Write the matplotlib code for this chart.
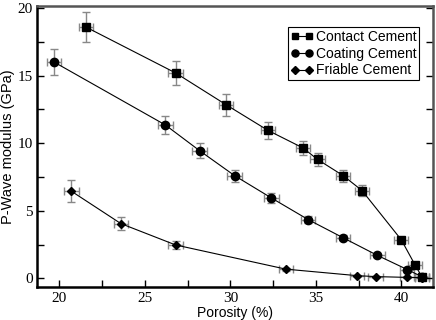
import matplotlib
matplotlib.use("Agg")
import matplotlib.pyplot as plt
from matplotlib.ticker import MultipleLocator

# Contact Cement (squares)
contact_x = [21.55, 26.8, 29.75, 32.2, 34.25, 35.1, 36.6, 37.7, 40.0, 40.8, 41.2]
contact_y = [18.6, 15.2, 12.85, 10.95, 9.65, 8.8, 7.6, 6.5, 2.85, 1.0, 0.12]
contact_yerr = [1.1, 0.9, 0.8, 0.65, 0.55, 0.5, 0.45, 0.4, 0.2, 0.1, 0.05]

# Coating Cement (circles)
coating_x = [19.7, 26.2, 28.2, 30.25, 32.4, 34.55, 36.6, 38.6, 40.35, 41.2]
coating_y = [16.0, 11.35, 9.45, 7.6, 5.95, 4.35, 3.0, 1.7, 0.65, 0.12]
coating_yerr = [0.95, 0.68, 0.55, 0.45, 0.35, 0.25, 0.18, 0.1, 0.05, 0.02]

# Friable Cement (diamonds)
friable_x = [20.7, 23.6, 26.8, 33.25, 37.4, 38.5, 40.35, 41.2]
friable_y = [6.45, 4.05, 2.47, 0.68, 0.2, 0.13, 0.07, 0.05]
friable_yerr = [0.8, 0.5, 0.33, 0.1, 0.03, 0.02, 0.01, 0.01]

xerr = 0.42

fig = plt.figure(figsize=(4.36, 3.2), dpi=100)
ax = fig.add_axes([0.086, 0.104, 0.907, 0.877])

ebkw = dict(ecolor="#888888", elinewidth=1.0, capsize=3, capthick=1.0, zorder=1)
ax.errorbar(contact_x, contact_y, xerr=xerr, yerr=contact_yerr, fmt="none", **ebkw)
ax.errorbar(coating_x, coating_y, xerr=xerr, yerr=coating_yerr, fmt="none", **ebkw)
ax.errorbar(friable_x, friable_y, xerr=xerr, yerr=friable_yerr, fmt="none", **ebkw)

ax.plot(contact_x, contact_y, "-s", color="black", lw=0.8, ms=5.2, zorder=3,
        label="Contact Cement")
ax.plot(coating_x, coating_y, "-o", color="black", lw=0.8, ms=6, zorder=3,
        label="Coating Cement")
ax.plot(friable_x, friable_y, "-D", color="black", lw=0.8, ms=4.3, zorder=3,
        label="Friable Cement")

ax.set_xlim(18.72, 41.85)
ax.set_ylim(-0.62, 20.15)

ax.xaxis.set_major_locator(MultipleLocator(5))
ax.xaxis.set_minor_locator(MultipleLocator(2.5))
ax.yaxis.set_major_locator(MultipleLocator(5))
ax.yaxis.set_minor_locator(MultipleLocator(2.5))

ax.tick_params(axis="both", which="both", direction="in", length=5, width=1,
               labelsize=11, right=True, top=False)
for lab in ax.get_xticklabels() + ax.get_yticklabels():
    lab.set_fontfamily("Liberation Serif")

for side in ["left", "bottom"]:
    ax.spines[side].set_linewidth(1.8)
    ax.spines[side].set_color("black")
for side in ["top", "right"]:
    ax.spines[side].set_linewidth(1.8)
    ax.spines[side].set_color("#555555")

ax.set_xlabel("Porosity (%)", fontsize=10, family="Liberation Sans", labelpad=1)
ax.set_ylabel("P-Wave modulus (GPa)", fontsize=10.5, family="Liberation Sans", labelpad=2)

leg = ax.legend(loc="upper right", bbox_to_anchor=(0.965, 0.925),
                prop={"family": "Liberation Sans", "size": 10},
                frameon=True, fancybox=False, framealpha=1, edgecolor="black",
                handlelength=1.6, handletextpad=0.2, labelspacing=0.2,
                borderpad=0.2, borderaxespad=0, numpoints=2, markerscale=0.85)
leg.get_frame().set_linewidth(0.8)

fig.savefig("out.png", dpi=100)
